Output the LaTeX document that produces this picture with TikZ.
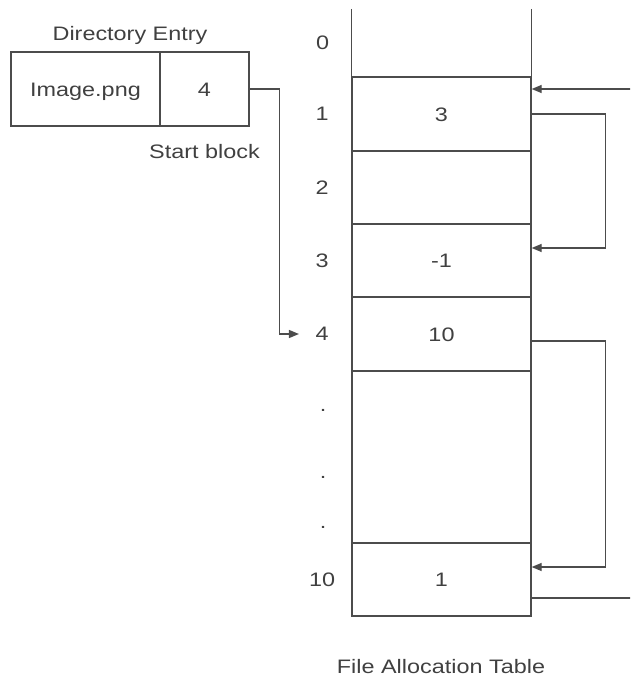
\documentclass[tikz,border=0pt]{standalone}
\usepackage{fontspec}
\setmainfont[FakeStretch=1.2]{Liberation Sans}
\usepackage{tikz}
\usetikzlibrary{arrows.meta,positioning}

\begin{document}
\begin{tikzpicture}[x=1pt,y=-1pt,>={Triangle[length=10pt,width=8pt]}]
\tikzstyle{every node}=[font=\fontsize{19.5}{23}\selectfont, text=black!75]
\tikzstyle{cell}=[draw=black!70, line width=1.3pt, minimum width=179pt, inner sep=0pt, text height=14pt, text depth=0pt]
\tikzstyle{rowlab}=[minimum width=46pt, inner sep=0pt]
\tikzstyle{link}=[draw=black!70, line width=1.3pt, ->]
\path[use as bounding box] (0,0) rectangle (630,677);
\clip (0,0) rectangle (630,677);
% directory entry
\node[cell, minimum width=149pt, minimum height=74pt] (name) at (85.5,89) {Image.png};
\node[cell, minimum width=89pt, minimum height=74pt] (start) at (204.5,89) {4};
\node (dirlab) at (130,35) {Directory Entry};
\node (startlab) at (204.5,152) {Start block};
% file allocation table
\node[minimum width=179pt, minimum height=68pt] (r0) at (441.5,43) {};
\draw[black!70, line width=1.3pt] (r0.north west) -- (r0.south west) (r0.north east) -- (r0.south east);
\node[cell, minimum height=74pt] (r1) at (441.5,114) {3};
\node[cell, minimum height=73pt] (r2) at (441.5,187.5) {};
\node[cell, minimum height=73pt] (r3) at (441.5,260.5) {-1};
\node[cell, minimum height=74pt] (r4) at (441.5,334) {10};
\node[cell, minimum height=172pt] (rd) at (441.5,457) {};
\node[cell, minimum height=73pt] (r10) at (441.5,579.5) {1};
\node[rowlab, left=6pt of r0] (l0) {0};
\node[rowlab, left=6pt of r1] (l1) {1};
\node[rowlab, left=6pt of r2] (l2) {2};
\node[rowlab, left=6pt of r3] (l3) {3};
\node[rowlab, left=6pt of r4] (l4) {4};
\node[rowlab] (d1) at (323,410) {.};
\node[rowlab] (d2) at (323,477) {.};
\node[rowlab] (d3) at (323,527) {.};
\node[rowlab, left=6pt of r10] (l10) {10};
\node (fatlab) at (441,667) {File Allocation Table};
% chain
\draw[link] (start.east) -- ++(30,0) |- (l4.west);
\draw[link] (r1.east) -- ++(74,0) |- ([yshift=12.5pt]r3.east);
\draw[link] ([yshift=-7pt]r4.east) -- ++(74,0) |- ([yshift=12.5pt]r10.east);
\draw[link] ([yshift=-18.5pt]r10.east) -- ++(104,0) |- ([yshift=25pt]r1.east);
\end{tikzpicture}
\end{document}
